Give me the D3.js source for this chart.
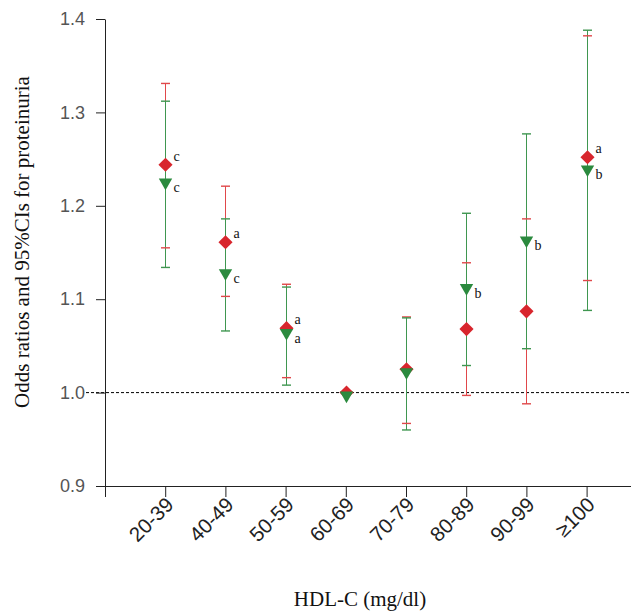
<!DOCTYPE html>
<html>
<head>
<meta charset="utf-8">
<script src="https://cdn.jsdelivr.net/npm/d3@7"></script>
<style>
  body { margin: 0; background: #fff; }
  svg { display: block; }
</style>
</head>
<body>
<div id="target"></div>
<script>
const categories = ["20-39", "40-49", "50-59", "60-69", "70-79", "80-89", "90-99", "≥100"];

// red diamonds
const redOR = [1.244, 1.161, 1.069, 1.000, 1.025, 1.068, 1.087, 1.252];
const redLo = [1.155, 1.103, 1.016, null, 0.967, 0.997, 0.988, 1.120];
const redHi = [1.331, 1.221, 1.116, null, 1.081, 1.139, 1.186, 1.382];
const redMarks = ["c", "a", "a", "", "", "", "", "a"];

// green triangles
const greenOR = [1.225, 1.128, 1.064, 0.997, 1.022, 1.112, 1.163, 1.239];
const greenLo = [1.134, 1.066, 1.008, null, 0.960, 1.029, 1.047, 1.088];
const greenHi = [1.312, 1.186, 1.113, null, 1.080, 1.192, 1.277, 1.388];
const greenMarks = ["c", "c", "a", "", "", "b", "b", "b"];

const yTicks = [0.9, 1.0, 1.1, 1.2, 1.3, 1.4];

const W = 631, H = 611;
const margin = {top: 19, left: 105, bottom: 125};

let svg = d3.select("#target").append("svg")
  .attr("width", W)
  .attr("height", H);

let x = d3.scaleLinear().domain([0, 9]).range([margin.left, margin.left + 9 * 60.2]);
let y = d3.scaleLinear().domain([0.9, 1.4]).range([H - margin.bottom, margin.top]);
// pixel-snapped x for the error bars
const xs = i => Math.round(x(i)) + 0.5;

// reference line at OR = 1
svg.append("line")
  .attr("x1", 86).attr("x2", W)
  .attr("y1", y(1)).attr("y2", y(1))
  .attr("stroke", "#000")
  .attr("stroke-width", 1)
  .attr("stroke-dasharray", "3,2");

// y axis
let gy = svg.append("g")
  .attr("transform", `translate(${margin.left},0)`)
  .call(d3.axisLeft(y).tickValues(yTicks).tickFormat(d3.format(".1f")).tickSize(9).tickSizeOuter(0));
gy.select(".domain").attr("stroke", "#222");
gy.selectAll(".tick line").attr("stroke", "#222");
gy.selectAll(".tick text")
  .attr("x", -20)
  .attr("fill", "#555")
  .style("font-family", "'Liberation Sans', Arial, sans-serif")
  .style("font-size", "18px");

// x axis
let gx = svg.append("g")
  .attr("transform", `translate(0,${y(0.9)})`)
  .call(d3.axisBottom(x).tickValues(d3.range(0, 9))
    .tickFormat(i => i === 0 ? "" : categories[i - 1])
    .tickSize(11).tickSizeOuter(0));
gx.select(".domain").attr("stroke", "#222");
gx.selectAll(".tick line").attr("stroke", "#222");
gx.selectAll(".tick text")
  .attr("fill", "#222")
  .style("font-family", "'Liberation Sans', Arial, sans-serif")
  .style("font-size", "20.5px")
  .attr("text-anchor", "end")
  .attr("dy", null)
  .attr("y", 0)
  .attr("transform", "translate(9,20) rotate(-45)");

// axis titles
svg.append("text")
  .attr("transform", `translate(29,242) rotate(-90)`)
  .attr("text-anchor", "middle")
  .style("font-family", "'Liberation Serif', 'Times New Roman', serif")
  .style("font-size", "21px")
  .attr("fill", "#111")
  .text("Odds ratios and 95%CIs for proteinuria");

svg.append("text")
  .attr("x", 360).attr("y", 606)
  .attr("text-anchor", "middle")
  .style("font-family", "'Liberation Serif', 'Times New Roman', serif")
  .style("font-size", "21px")
  .attr("fill", "#111")
  .text("HDL-C (mg/dl)");

const red = "#d8262d", green = "#2b8a3e";
const redLine = "#e0484a", greenLine = "#3f9650";

function rows(or, lo, hi, marks) {
  return categories.map((c, i) => ({i: i + 1, or: or[i], lo: lo[i], hi: hi[i], mark: marks[i]}));
}
const redData = rows(redOR, redLo, redHi, redMarks);
const greenData = rows(greenOR, greenLo, greenHi, greenMarks);

// CI lines (red under green)
[[redData, redLine], [greenData, greenLine]].forEach(([data, col]) => {
  svg.append("g").selectAll("line")
    .data(data.filter(d => d.lo != null))
    .join("line")
    .attr("x1", d => xs(d.i)).attr("x2", d => xs(d.i))
    .attr("y1", d => y(d.lo)).attr("y2", d => y(d.hi))
    .attr("stroke", col)
    .attr("stroke-width", 1.6)
    .attr("shape-rendering", "crispEdges");
});

// caps
[[redData, redLine], [greenData, greenLine]].forEach(([data, col]) => {
  let caps = svg.append("g");
  data.filter(d => d.lo != null).forEach(d => {
    [d.lo, d.hi].forEach(v => {
      caps.append("line")
        .attr("x1", xs(d.i) - 4.5).attr("x2", xs(d.i) + 4.5)
        .attr("y1", y(v)).attr("y2", y(v))
        .attr("stroke", col)
        .attr("stroke-width", 1.4);
    });
  });
});

// markers
svg.append("g").selectAll("path")
  .data(redData)
  .join("path")
  .attr("d", d3.symbol(d3.symbolSquare, 100))
  .attr("transform", d => `translate(${xs(d.i)},${y(d.or)}) rotate(45)`)
  .attr("fill", red);

svg.append("g").selectAll("path")
  .data(greenData)
  .join("path")
  .attr("d", d3.symbol(d3.symbolTriangle, 78))
  .attr("transform", d => `translate(${xs(d.i)},${y(d.or)}) rotate(180)`)
  .attr("fill", green);

// significance letters
const letterFont = "'Liberation Serif', 'Times New Roman', serif";
svg.append("g").selectAll("text")
  .data(redData.filter(d => d.mark))
  .join("text")
  .attr("x", d => xs(d.i) + 8)
  .attr("y", d => y(d.or) - 4)
  .style("font-family", letterFont)
  .style("font-size", "14px")
  .attr("fill", "#111")
  .text(d => d.mark);

svg.append("g").selectAll("text")
  .data(greenData.filter(d => d.mark))
  .join("text")
  .attr("x", d => xs(d.i) + 8)
  .attr("y", d => y(d.or) + 10)
  .style("font-family", letterFont)
  .style("font-size", "14px")
  .attr("fill", "#111")
  .text(d => d.mark);
</script>
</body>
</html>
